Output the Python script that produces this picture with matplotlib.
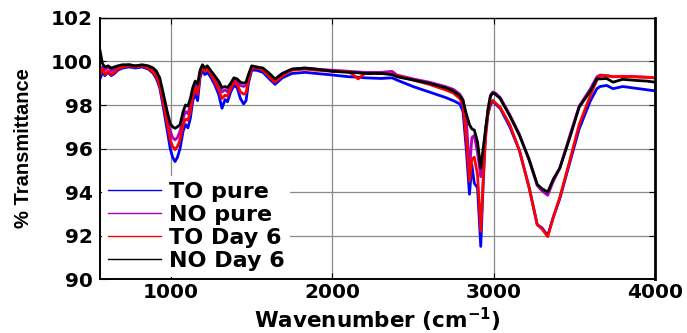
import matplotlib
matplotlib.use("Agg")
import matplotlib.pyplot as plt
from matplotlib.lines import Line2D

# FTIR spectra: % transmittance against wavenumber (cm^-1)
wavenumber = [
    560, 575, 590, 610, 630, 650, 670, 700, 740, 780,
    820, 860, 890, 910, 930, 950, 975, 995, 1010, 1025,
    1040, 1056, 1075, 1090, 1105, 1120, 1135, 1150, 1165, 1180,
    1195, 1210, 1225, 1245, 1270, 1295, 1316, 1335, 1350, 1370,
    1390, 1410, 1430, 1450, 1465, 1480, 1500, 1530, 1570, 1610,
    1645, 1690, 1750, 1830, 1900, 2000, 2100, 2160, 2200, 2300,
    2370, 2400, 2500, 2600, 2700, 2750, 2790, 2810, 2830, 2850,
    2865, 2880, 2900, 2920, 2935, 2950, 2965, 2980, 2995, 3010,
    3040, 3100, 3160, 3220, 3270, 3300, 3335, 3370, 3410, 3470,
    3530, 3600, 3640, 3660, 3700, 3740, 3800, 3850, 3900, 3950, 4000,
]

to_pure = [
    99.2, 99.5, 99.35, 99.5, 99.35, 99.45, 99.6, 99.7, 99.75, 99.7,
    99.75, 99.65, 99.45, 99.2, 98.8, 98.0, 96.9, 96.0, 95.6, 95.4,
    95.6, 96.0, 96.8, 97.1, 96.95, 97.4, 98.2, 98.5, 98.2, 99.25,
    99.6, 99.4, 99.5, 99.3, 98.95, 98.5, 97.85, 98.25, 98.15, 98.6,
    98.9, 98.8, 98.3, 98.05, 98.2, 99.0, 99.6, 99.6, 99.5, 99.2,
    98.95, 99.25, 99.45, 99.5, 99.45, 99.38, 99.3, 99.28, 99.25, 99.22,
    99.25, 99.15, 98.85, 98.6, 98.35, 98.2, 98.05, 97.7, 96.0, 93.9,
    95.25, 94.4, 94.2, 91.5, 94.4, 96.9, 97.6, 98.0, 98.2, 98.05,
    97.85, 97.0, 95.9, 94.2, 92.5, 92.35, 92.0, 92.85, 93.7, 95.3,
    96.9, 98.2, 98.75, 98.85, 98.9, 98.75, 98.85, 98.8, 98.75, 98.7, 98.65,
]

no_pure = [
    99.7, 99.75, 99.6, 99.75, 99.55, 99.65, 99.75, 99.8, 99.85, 99.8,
    99.82, 99.75, 99.6, 99.4, 99.05, 98.4, 97.5, 96.8, 96.5, 96.4,
    96.5, 96.8, 97.4, 97.7, 97.6, 98.0, 98.6, 98.9, 98.7, 99.5,
    99.8, 99.65, 99.75, 99.55, 99.25, 98.95, 98.6, 98.7, 98.6, 98.9,
    99.15, 99.1, 98.9, 98.85, 98.9, 99.3, 99.75, 99.75, 99.65, 99.4,
    99.15, 99.45, 99.65, 99.7, 99.65, 99.6, 99.55, 99.52, 99.5, 99.5,
    99.55, 99.38, 99.2, 99.05, 98.85, 98.72, 98.5, 98.25, 97.4, 95.0,
    96.5, 96.6, 95.8, 94.7, 95.6, 96.7, 97.8, 98.45, 98.6, 98.55,
    98.35, 97.55, 96.65, 95.45, 94.3, 94.05, 93.85, 94.5, 95.1, 96.55,
    97.95, 98.75, 99.3, 99.38, 99.35, 99.3, 99.3, 99.32, 99.3, 99.28, 99.25,
]

to_day6 = [
    99.4, 99.65, 99.4, 99.55, 99.4, 99.5, 99.65, 99.75, 99.8, 99.75,
    99.8, 99.7, 99.5, 99.3, 98.9, 98.2, 97.2, 96.4, 96.1, 95.95,
    96.1, 96.4, 97.1, 97.35, 97.3, 97.7, 98.4, 98.75, 98.5, 99.4,
    99.75, 99.55, 99.65, 99.45, 99.1, 98.7, 98.3, 98.45, 98.4, 98.75,
    99.05, 98.95, 98.6, 98.5, 98.55, 99.15, 99.7, 99.7, 99.6, 99.3,
    99.05, 99.35, 99.6, 99.65, 99.6, 99.55, 99.55, 99.2, 99.45, 99.45,
    99.42, 99.35, 99.15, 98.95, 98.7, 98.55, 98.3, 98.0, 96.5, 94.5,
    95.5, 95.6, 94.8, 92.2, 94.5, 96.5, 97.6, 98.1, 98.2, 98.1,
    97.9, 97.1, 95.9, 94.2, 92.5, 92.3, 91.95, 92.85, 93.75, 95.4,
    97.1, 98.45, 99.15, 99.35, 99.35, 99.3, 99.32, 99.3, 99.28, 99.27, 99.25,
]

no_day6 = [
    100.5, 99.9, 99.75, 99.8, 99.7, 99.75, 99.8, 99.85, 99.85, 99.8,
    99.85, 99.8, 99.7, 99.55, 99.25, 98.6, 97.75, 97.15, 97.0, 96.93,
    97.0, 97.1, 97.7, 98.0, 97.95, 98.3, 98.8, 99.1, 98.95, 99.6,
    99.85, 99.7, 99.8, 99.6, 99.35, 99.1, 98.8, 98.85, 98.8, 99.0,
    99.25, 99.2, 99.05, 99.0, 99.05, 99.4, 99.8, 99.75, 99.7, 99.45,
    99.2, 99.45, 99.65, 99.7, 99.65, 99.55, 99.5, 99.48, 99.45, 99.45,
    99.4, 99.3, 99.15, 99.0, 98.8, 98.65, 98.42, 98.2, 97.6, 97.1,
    96.9, 96.85, 96.3, 95.1, 96.0, 96.9, 97.8, 98.4, 98.55, 98.5,
    98.3, 97.5, 96.6, 95.5, 94.35, 94.15, 94.0, 94.6, 95.1, 96.45,
    97.9, 98.65, 99.2, 99.2, 99.22, 99.05, 99.18, 99.15, 99.12, 99.1, 99.05,
]

series_labels = ["TO pure", "NO pure", "TO Day 6", "NO Day 6"]
series_colors = ["#0000FF", "#B000C0", "#FF0000", "#000000"]
x_ticks = [1000, 2000, 3000, 4000]
y_ticks = [90, 92, 94, 96, 98, 100, 102]

fig = plt.figure(figsize=(6.87, 3.33), dpi=100)
ax = fig.add_axes([0.1456, 0.162, 0.8078, 0.784])

for values, color in zip([to_pure, no_pure, to_day6, no_day6], series_colors):
    ax.plot(wavenumber, values, color=color, lw=2.0, solid_joinstyle="round")

ax.set_xlim(560, 4000)
ax.set_ylim(90, 102)
ax.set_xticks(x_ticks)
ax.set_yticks(y_ticks)
ax.grid(True, color="#8a8a8a", lw=0.9)
ax.set_axisbelow(True)

tick_font = dict(family="DejaVu Sans", weight="bold", size=14.5)
ax.set_xticklabels([str(t) for t in x_ticks], fontdict=tick_font)
ax.set_yticklabels([str(t) for t in y_ticks], fontdict=tick_font)
ax.tick_params(direction="in", length=4, width=0.8, top=True, right=True, pad=5)
ax.tick_params(axis="x", pad=3)

for side, w in [("left", 1.4), ("bottom", 1.4), ("top", 1.0), ("right", 2.0)]:
    ax.spines[side].set_linewidth(w)
    ax.spines[side].set_color("black")

ax.set_xlabel("Wavenumber (cm$^{\\mathbf{-1}}$)", family="DejaVu Sans",
              weight="bold", size=15.5)
ax.xaxis.set_label_coords(0.5, -0.104)
ax.set_ylabel("% Transmittance", family="Liberation Sans",
              weight="bold", size=14.5)
ax.yaxis.set_label_coords(-0.121, 0.5)

handles = [Line2D([], [], color=c, lw=1.0) for c in series_colors]
leg = ax.legend(handles, series_labels, loc="lower left", bbox_to_anchor=(0, 0),
                borderaxespad=0.1, frameon=True, fancybox=False,
                facecolor="white", edgecolor="none", framealpha=1,
                prop=dict(family="DejaVu Sans", weight="bold", size=16),
                handlelength=2.4, handletextpad=0.35, labelspacing=0.14,
                borderpad=0.25)

fig.savefig("out.png", dpi=100)
